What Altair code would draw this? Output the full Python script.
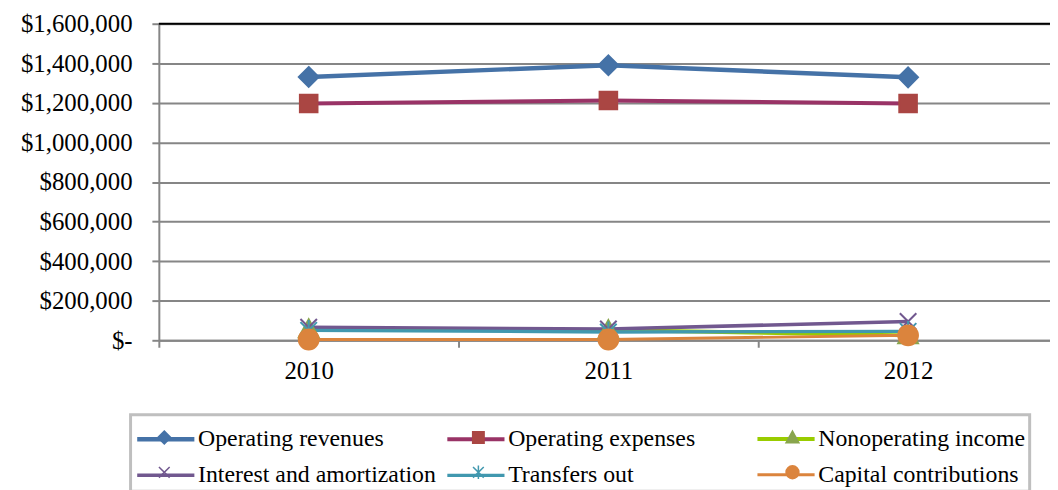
import altair as alt
import pandas as pd

years = [2010, 2011, 2012]
series = ["Operating revenues", "Operating expenses", "Nonoperating income",
          "Interest and amortization", "Transfers out", "Capital contributions"]

operating_revenues = [1331000, 1390000, 1329000]
operating_expenses = [1197000, 1212000, 1197000]
nonoperating_income = [56000, 52000, 25000]
interest_amortization = [66000, 57000, 95000]
transfers_out = [50000, 42000, 45000]
capital_contributions = [4000, 4000, 25000]

values = [operating_revenues, operating_expenses, nonoperating_income,
          interest_amortization, transfers_out, capital_contributions]

line_colors = ["#4572A7", "#993366", "#99CC00", "#71588F", "#4198AF", "#DB843D"]
marker_colors = ["#4572A7", "#AA4643", "#89A54E", "#71588F", "#4198AF", "#DB843D"]
line_widths = [4.5, 3, 4.5, 4.5, 4.5, 4.5]
marker_paths = [
    "M0,-0.36L0.36,0L0,0.36L-0.36,0Z",
    "M-0.32,-0.32L0.32,-0.32L0.32,0.32L-0.32,0.32Z",
    "M0,-0.36L0.36,0.29L-0.36,0.29Z",
    "M-0.3,-0.3L0.3,0.3M-0.3,0.3L0.3,-0.3",
    "M-0.3,-0.3L0.3,0.3M-0.3,0.3L0.3,-0.3M0,-0.38L0,0.38",
    "M0.36,0A0.36,0.36,0,1,1,-0.36,0A0.36,0.36,0,1,1,0.36,0Z",
]
y_ticks = [0, 200000, 400000, 600000, 800000, 1000000, 1200000, 1400000, 1600000]
top_line = [1600000]

# marker legend keys carry a one-character prefix so that the two legends stay separate
marker_keys = ["_" + s for s in series]

rows = []
for s, m, vals in zip(series, marker_keys, values):
    for yr, v in zip(years, vals):
        rows.append({"series": s, "marker": m, "year": yr, "value": v})
df = pd.DataFrame(rows)

FONT = "Liberation Serif"
GRAY = "#868686"
PLOT_W = 898
X_MAX = 2009.5 + PLOT_W / 302.0

x_enc = alt.X(
    "year:Q",
    scale=alt.Scale(domain=[2009.5, X_MAX], nice=False, zero=False),
    axis=alt.Axis(
        values=[2009.5, 2010, 2010.5, 2011, 2011.5, 2012],
        labelExpr="datum.value % 1 == 0 ? toString(datum.value) : ''",
        tickOpacity={"condition": {"test": "datum.value % 1 == 0", "value": 0}, "value": 1},
        title=None, grid=False, labelFont=FONT, labelFontSize=25, labelColor="black",
        tickColor=GRAY, tickWidth=2, tickSize=7, domainColor=GRAY, domainWidth=2,
        labelPadding=12, labelOverlap=False, labelFlush=False,
    ),
)
y_enc = alt.Y(
    "value:Q",
    scale=alt.Scale(domain=[0, 1600000], nice=False),
    axis=alt.Axis(
        values=y_ticks,
        labelExpr="datum.value == 0 ? '$-' : '$' + format(datum.value, ',')",
        title=None, grid=True, gridColor=GRAY, gridWidth=2,
        labelFont=FONT, labelFontSize=25, labelColor="black",
        tickColor=GRAY, tickWidth=2, tickSize=7, domainColor=GRAY, domainWidth=2,
        labelPadding=20, labelOverlap=False, labelFlush=False,
    ),
)

legend_common = dict(
    orient="none", legendX=-28.5, legendY=394, columns=3, direction="horizontal",
    title=None, symbolSize=1296, labelFont=FONT, labelFontSize=24, labelColor="black",
    labelLimit=0, labelOffset=12, symbolOffset=11, rowPadding=4,
    gridAlign="all", padding=4,
)

legend_lines = alt.Legend(
    symbolType="M-1.6,0L1.6,0", symbolStrokeWidth=4, columnPadding=2.5,
    strokeColor="#BFBFBF", fillColor="white", zindex=0, **legend_common,
)
legend_markers = alt.Legend(
    labelExpr="''", symbolStrokeWidth=1.5, columnPadding=255.5,
    strokeColor="transparent", fillColor="transparent", zindex=1, **legend_common,
)

lines = alt.Chart(df).mark_line().encode(
    x=x_enc, y=y_enc,
    color=alt.Color("series:N", scale=alt.Scale(domain=series, range=line_colors),
                    legend=legend_lines),
    strokeWidth=alt.StrokeWidth("series:N", scale=alt.Scale(domain=series, range=line_widths),
                                legend=None),
)

points = alt.Chart(df).mark_point(filled=True, opacity=1, strokeWidth=2, size=3070).encode(
    x=x_enc, y=y_enc,
    fill=alt.Fill("marker:N", scale=alt.Scale(domain=marker_keys, range=marker_colors),
                  legend=legend_markers),
    stroke=alt.Stroke("marker:N", scale=alt.Scale(domain=marker_keys, range=marker_colors),
                      legend=legend_markers),
    shape=alt.Shape("marker:N", scale=alt.Scale(domain=marker_keys, range=marker_paths),
                    legend=legend_markers),
)

top = alt.Chart(pd.DataFrame({"value": top_line})).mark_rule(
    color="black", strokeWidth=2).encode(y=y_enc)

chart = alt.layer(top, lines, points).properties(
    width=PLOT_W, height=319,
    autosize=alt.AutoSizeParams(type="none"),
    padding={"left": 152, "top": 14, "right": 0, "bottom": 149},
).configure(font=FONT).configure_view(stroke=None).configure_legend(
    strokeWidth=3, labelFont=FONT)

chart.save("out.html", embed_options={"renderer": "svg", "actions": False})
